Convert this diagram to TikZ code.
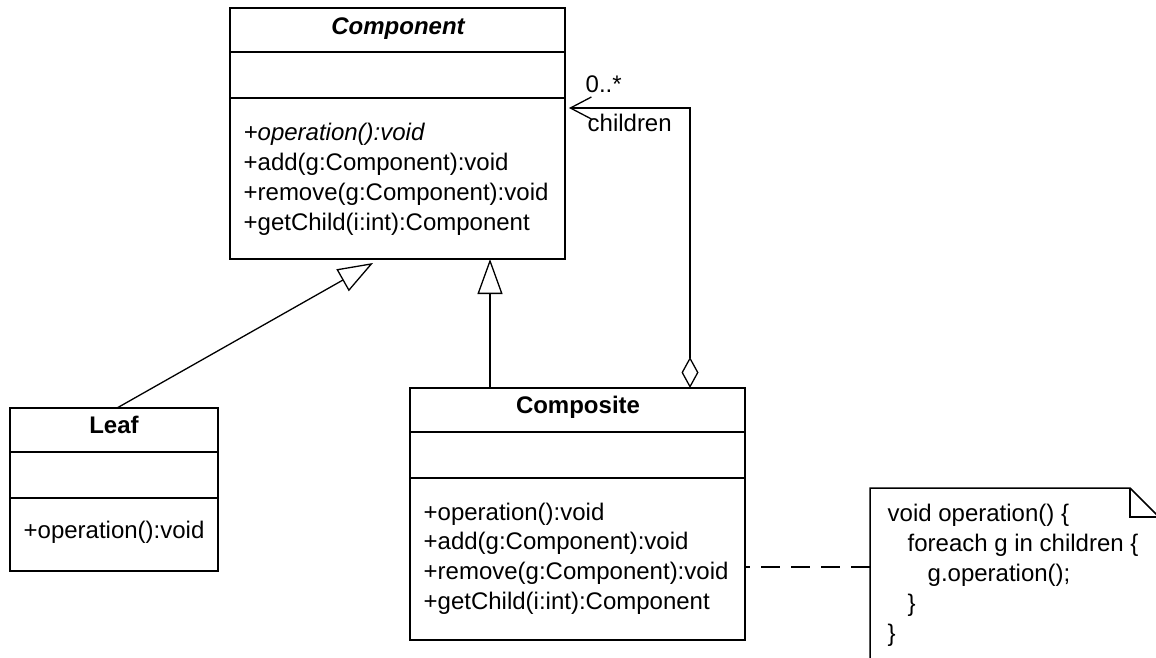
\documentclass[tikz,border=0pt]{standalone}
\usepackage{fontspec}
\setmainfont{Liberation Sans}
\usetikzlibrary{arrows.meta}
\begin{document}
\begin{tikzpicture}[x=1pt,y=-1pt,line width=1.3pt,
  umlbox/.style={draw,line width=1.7pt,rectangle,anchor=north west,inner sep=0pt,outer sep=0pt},
  divider/.style={line width=1.7pt},
  txt/.style={anchor=base west,inner sep=0pt,font=\fontsize{24}{30}\selectfont},
  ttl/.style={anchor=base,inner sep=0pt,font=\fontsize{24}{30}\selectfont\bfseries},
  gen/.style={-{Triangle[open,length=35pt,width=25pt]}},
  assoc/.style={{Diamond[open,length=31pt,width=17pt]}-{Straight Barb[length=21pt,width=22pt]}},
  notelink/.style={line width=1.3pt,dash pattern=on 19pt off 11pt,dash phase=14pt}]
\useasboundingbox (0,0) rectangle (1156,657);
\clip (0,0) rectangle (1156,657);
% Component
\node[umlbox,minimum width=335pt,minimum height=251pt] (comp) at (230,8) {};
\draw[divider] (comp.west |- 0,52) -- (comp.east |- 0,52);
\draw[divider] (comp.west |- 0,98) -- (comp.east |- 0,98);
\node[ttl,font=\fontsize{24}{30}\selectfont\bfseries\itshape] (compt) at (398,34) {Component};
\node[txt,font=\fontsize{24}{30}\selectfont\itshape] (cm1) at (243,140) {+operation():void};
\node[txt] (cm2) at (243,170) {+add(g:Component):void};
\node[txt] (cm3) at (243,200) {+remove(g:Component):void};
\node[txt] (cm4) at (243,230) {+getChild(i:int):Component};
% Leaf
\node[umlbox,minimum width=208pt,minimum height=163pt] (leaf) at (10,408) {};
\draw[divider] (leaf.west |- 0,452) -- (leaf.east |- 0,452);
\draw[divider] (leaf.west |- 0,498) -- (leaf.east |- 0,498);
\node[ttl] (leaft) at (114,433) {Leaf};
\node[txt] (lm1) at (23,538) {+operation():void};
% Composite
\node[umlbox,minimum width=335pt,minimum height=252pt] (comps) at (410,388) {};
\draw[divider] (comps.west |- 0,432) -- (comps.east |- 0,432);
\draw[divider] (comps.west |- 0,478) -- (comps.east |- 0,478);
\node[ttl] (compst) at (578,413) {Composite};
\node[txt] (sm1) at (423,520) {+operation():void};
\node[txt] (sm2) at (423,549) {+add(g:Component):void};
\node[txt] (sm3) at (423,579) {+remove(g:Component):void};
\node[txt] (sm4) at (423,609) {+getChild(i:int):Component};
% Note
\node[anchor=north west,inner sep=0pt,outer sep=0pt,minimum width=289pt,minimum height=220pt] (note) at (870,488) {};
\draw[line width=1.5pt] (note.south west) -- (note.north west) -- ([xshift=-29pt]note.north east) -- ([yshift=-29pt]note.north east) -- (note.south east);
\draw[line width=1.5pt] ([xshift=-29pt]note.north east) -- ([xshift=-29pt,yshift=-29pt]note.north east) -- ([yshift=-29pt]note.north east);
\node[txt] (n1) at (887,521) {void operation() \{};
\node[txt] (n2) at (907,551) {foreach g in children \{};
\node[txt] (n3) at (927,581) {g.operation();};
\node[txt] (n4) at (907,611) {\}};
\node[txt] (n5) at (887,641) {\}};
% connectors
\coordinate (leaftop) at (117,408);
\coordinate (gentip1) at (373,263);
\draw[gen] (leaftop) -- (gentip1);
\draw[gen] (comps.north -| 490,0) -- (comp.south -| 490,0);
\coordinate (aggbend) at (690,108);
\coordinate (assoctip) at (569,108);
\draw[assoc] (comps.north -| aggbend) -- (aggbend) -- (assoctip);
\node[txt] (mult) at (585,92) {0..*};
\node[txt] (role) at (587,131) {children};
\draw[notelink] (comps.east |- 0,567) -- (note.west |- 0,567);
\end{tikzpicture}
\end{document}
